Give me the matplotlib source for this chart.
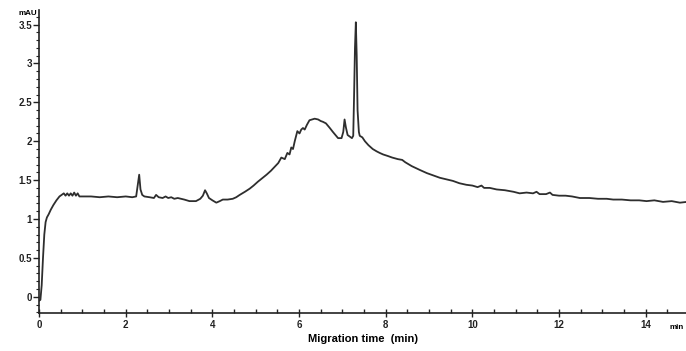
import matplotlib.pyplot as plt
from matplotlib.ticker import MultipleLocator

# Elektropherogramm: Migrationszeit (min) und Absorption (mAU)
time_min = [
    0.00, 0.03, 0.06, 0.09, 0.12, 0.15, 0.18, 0.22, 0.27, 0.33, 0.40, 0.47,
    0.52, 0.57, 0.61, 0.65, 0.69, 0.73, 0.77, 0.81, 0.85, 0.89, 0.93, 1.00,
    1.20, 1.40, 1.60, 1.80, 2.00, 2.15, 2.24, 2.28, 2.31, 2.34, 2.38, 2.43,
    2.55, 2.65, 2.70, 2.76, 2.85, 2.92, 2.98, 3.05, 3.12, 3.20, 3.35, 3.47,
    3.62, 3.72, 3.78, 3.83, 3.87, 3.92, 4.00, 4.09, 4.17, 4.24, 4.35, 4.47,
    4.55, 4.63, 4.75, 4.86, 4.95, 5.05, 5.16, 5.25, 5.35, 5.45, 5.52, 5.59,
    5.67, 5.73, 5.78, 5.82, 5.86, 5.90, 5.96, 6.01, 6.05, 6.09, 6.13, 6.18,
    6.24, 6.30, 6.36, 6.44, 6.50, 6.55, 6.62, 6.71, 6.78, 6.84, 6.90, 6.98,
    7.02, 7.05, 7.08, 7.12, 7.17, 7.22, 7.25, 7.27, 7.29, 7.31, 7.33, 7.35,
    7.38, 7.40, 7.46, 7.52, 7.60, 7.70, 7.79, 7.86, 7.94, 8.05, 8.15, 8.28,
    8.38, 8.45, 8.60, 8.79, 8.95, 9.10, 9.25, 9.40, 9.55, 9.70, 9.86, 10.00,
    10.12, 10.21, 10.27, 10.40, 10.56, 10.75, 10.95, 11.09, 11.25, 11.40, 11.48,
    11.55, 11.70, 11.79, 11.85, 12.00, 12.15, 12.30, 12.48, 12.70, 12.90, 13.10,
    13.25, 13.45, 13.65, 13.85, 14.02, 14.20, 14.40, 14.60, 14.79, 14.95,
]
absorbance_mau = [
    -0.05, -0.04, 0.15, 0.50, 0.80, 0.96, 1.02, 1.06, 1.12, 1.18, 1.24, 1.29,
    1.31, 1.33, 1.30, 1.33, 1.30, 1.33, 1.30, 1.34, 1.30, 1.33, 1.29, 1.29,
    1.29, 1.28, 1.29, 1.28, 1.29, 1.28, 1.29, 1.45, 1.57, 1.38, 1.31, 1.29,
    1.28, 1.27, 1.31, 1.28, 1.27, 1.29, 1.27, 1.28, 1.26, 1.27, 1.25, 1.23,
    1.23, 1.26, 1.30, 1.37, 1.33, 1.27, 1.24, 1.21, 1.23, 1.25, 1.25, 1.26,
    1.28, 1.31, 1.35, 1.39, 1.43, 1.48, 1.53, 1.57, 1.62, 1.68, 1.72, 1.79,
    1.77, 1.85, 1.83, 1.92, 1.90, 2.00, 2.13, 2.10, 2.15, 2.17, 2.15, 2.21,
    2.27, 2.28, 2.29, 2.28, 2.26, 2.25, 2.23, 2.17, 2.12, 2.08, 2.04, 2.04,
    2.12, 2.28, 2.18, 2.08, 2.06, 2.04, 2.07, 2.60, 3.20, 3.53, 3.10, 2.40,
    2.12, 2.07, 2.05, 2.00, 1.95, 1.90, 1.87, 1.85, 1.83, 1.81, 1.79, 1.77,
    1.76, 1.73, 1.68, 1.63, 1.59, 1.56, 1.53, 1.51, 1.49, 1.46, 1.44, 1.43,
    1.41, 1.43, 1.40, 1.40, 1.38, 1.37, 1.35, 1.33, 1.34, 1.33, 1.35,
    1.32, 1.32, 1.34, 1.31, 1.30, 1.30, 1.29, 1.27, 1.27, 1.26, 1.26,
    1.25, 1.25, 1.24, 1.24, 1.23, 1.24, 1.22, 1.23, 1.21, 1.22,
]

x_major = [0, 2, 4, 6, 8, 10, 12, 14]
y_major = [0, 0.5, 1, 1.5, 2, 2.5, 3, 3.5]

plt.rcParams['font.family'] = ['Liberation Sans', 'DejaVu Sans']
plt.rcParams['font.weight'] = 'bold'

fig = plt.figure(figsize=(6.86, 3.51), dpi=100)
ax = fig.add_axes([0.057, 0.108, 0.943, 0.864])

ax.plot(time_min, absorbance_mau, color='#2e2e2e', linewidth=1.3)

ax.set_xlim(0, 14.93)
ax.set_ylim(-0.21, 3.69)

ax.set_xticks(x_major)
ax.set_xticklabels([str(v) for v in x_major])
ax.set_yticks(y_major)
ax.set_yticklabels(['0', '0.5', '1', '1.5', '2', '2.5', '3', '3.5'])
ax.xaxis.set_minor_locator(MultipleLocator(0.5))
ax.yaxis.set_minor_locator(MultipleLocator(0.1))

ax.tick_params(axis='x', which='major', direction='inout', length=6, width=1,
               labelsize=7, pad=2, colors='#222222')
ax.tick_params(axis='x', which='minor', direction='in', length=3, width=1,
               colors='#222222')
ax.tick_params(axis='y', which='major', direction='out', length=4, width=1,
               labelsize=7, pad=1, colors='#222222')
ax.tick_params(axis='y', which='minor', direction='out', length=2.5, width=0.8,
               colors='#222222')

for side in ['top', 'right']:
    ax.spines[side].set_visible(False)
for side in ['left', 'bottom']:
    ax.spines[side].set_linewidth(1.2)
    ax.spines[side].set_color('#222222')

ax.set_xlabel('Migration time  (min)', fontsize=8, fontweight='bold', labelpad=3)

fig.text(0.054, 0.962, 'mAU', fontsize=5.8, fontweight='bold', ha='right', va='center')
fig.text(0.997, 0.068, 'min', fontsize=5.8, fontweight='bold', ha='right', va='center')

plt.savefig('out.png', dpi=100)
